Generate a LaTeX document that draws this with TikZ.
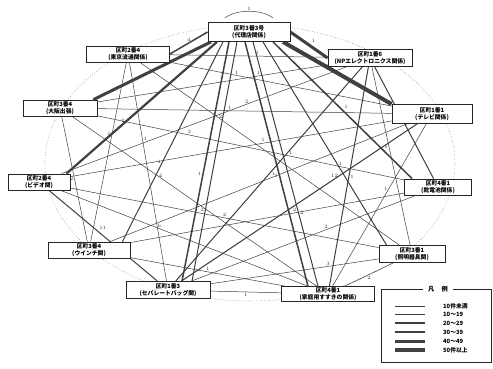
\documentclass[tikz,border=0pt]{standalone}
\usepackage{fontspec}
\newfontfamily\jp{Noto Sans CJK JP}
\usetikzlibrary{backgrounds}
\begin{document}
\begin{tikzpicture}[x=1pt,y=-1pt,
  box/.style={draw=black!85,fill=white,line width=0.8pt,inner sep=0.5pt,align=center,
    font=\jp\bfseries\fontsize{5.8}{6.6}\selectfont},
  lbl/.style={font=\fontsize{5}{5}\selectfont,inner sep=1pt,text=black!80},
  ln/.style={draw=black!75,line cap=butt},
  e1/.style={ln,line width=0.5pt},
  e2/.style={ln,line width=1pt},
  e3/.style={ln,line width=1.5pt},
  e4/.style={ln,line width=2.2pt},
  e5/.style={ln,line width=3pt},
  e6/.style={ln,line width=4pt},
  lgtext/.style={font=\jp\bfseries\fontsize{5.8}{6}\selectfont,anchor=west,inner sep=0pt}]
\useasboundingbox (0,0) rectangle (493,368);

% nodes
\node[box,minimum width=82pt,minimum height=19pt] (T)  at (249,32)  {区町3番3号\\(代理店関係)};
\node[box,minimum width=83pt,minimum height=16pt] (UL) at (128,54)  {区町2番4\\(東京流通関係)};
\node[box,minimum width=84pt,minimum height=17pt] (UR) at (370,58)  {区町1番6\\(NPエレクトロニクス関係)};
\node[box,minimum width=74pt,minimum height=16pt] (L)  at (60,108)  {区町3番4\\(大阪出張)};
\node[box,minimum width=80pt,minimum height=19pt] (R)  at (432,114) {区町1番1\\(テレビ関係)};
\node[box,minimum width=62pt,minimum height=16pt] (LM) at (39,182)  {区町2番4\\(ビデオ関)};
\node[box,minimum width=67pt,minimum height=16pt] (RM) at (438,187) {区町4番1\\(乾電池関係)};
\node[box,minimum width=82pt,minimum height=16pt] (LL) at (89,250)  {区町3番4\\(ウインチ関)};
\node[box,minimum width=66pt,minimum height=17pt] (LR) at (412,254) {区町3番1\\(照明器具関)};
\node[box,minimum width=84pt,minimum height=17pt] (BL) at (168,290) {区町1番3\\(セパレートバッグ関)};
\node[box,minimum width=93pt,minimum height=15pt] (BR) at (328,294) {区町4番1\\(家庭用すすきの関係)};

\coordinate (la) at (225,18);
\coordinate (lb) at (273,18);

\begin{scope}[on background layer]
\fill[white] (0,0) rectangle (493,368);
\draw[black!45,dotted,line width=0.6pt] (250,163) ellipse [x radius=205, y radius=138];

% self loop on top node
\draw[e1] (la) .. controls (236,9) and (262,9) .. node[lbl,above]{1} (lb);

% fan from the top node
\draw[e3] (T.west) -- node[lbl,pos=0.5,above]{4} (UL.east);
\draw[e5] ([xshift=-38pt]T.south) -- node[lbl,pos=0.45,below left]{1} ([xshift=-4pt]L.north east);
\draw[e4] ([xshift=-32pt]T.south) -- node[lbl,pos=0.6,left]{2} ([xshift=-4pt]LM.north east);
\draw[e2] ([xshift=-26pt]T.south) -- node[lbl,pos=0.6,left]{1} ([xshift=-8pt]LL.north east);
\draw[e3] ([xshift=-20pt]T.south) -- node[lbl,pos=0.55,left]{1} ([xshift=14pt]BL.north);
\draw[e2] ([xshift=-12pt]T.south) -- node[lbl,pos=0.7,left]{2} ([xshift=24pt]BL.north);
\draw[e3] ([xshift=-4pt]T.south) -- node[lbl,pos=0.55,left]{1} ([xshift=-20pt]BR.north);
\draw[e2] ([xshift=4pt]T.south) -- node[lbl,pos=0.7,right]{2} ([xshift=-10pt]BR.north);
\draw[e2] ([xshift=14pt]T.south) -- node[lbl,pos=0.6,right]{1} ([xshift=8pt]LR.north west);
\draw[e3] ([xshift=24pt]T.south) -- node[lbl,pos=0.5,above right]{1} ([xshift=8pt]RM.north west);
\draw[e6] ([xshift=34pt]T.south) -- node[lbl,pos=0.45,above right]{11} (R.north west);
\draw[e5] (T.east) -- node[lbl,pos=0.5,above right]{1} (UR.west);

% other connectors
\draw[e1] (UL) -- node[lbl,pos=0.3,above]{1} (R);
\draw[e1] (UL) -- node[lbl,pos=0.55,above]{3} (UR);
\draw[e1] (UL) -- node[lbl,pos=0.3,right]{2} (LR);
\draw[e1] (UL) -- node[lbl,pos=0.35,right]{1} (BL);
\draw[e1] (UL) -- node[lbl,pos=0.4,left]{1} (LL);
\draw[e1] (UR) -- node[lbl,pos=0.3,above]{1} (L);
\draw[e1] (UR) -- node[lbl,pos=0.35,above]{2} (LM);
\draw[e2] (UR) -- node[lbl,pos=0.4,right]{1} (BL);
\draw[e2] (UR) -- node[lbl,pos=0.5,right]{1} (BR);
\draw[e1] (UR) -- node[lbl,pos=0.45,left]{5} (LR);
\draw[e2] (UR) -- node[lbl,pos=0.5,left]{1} (RM);
\draw[e1] (L) -- node[lbl,pos=0.45,above]{1} (R);
\draw[e1] (L) -- node[lbl,pos=0.3,above]{3} (RM);
\draw[e1] (L) -- node[lbl,pos=0.35,right]{4} (BR);
\draw[e1] (L) -- node[lbl,pos=0.5,left]{2} (LL);
\draw[e1] (LM) -- node[lbl,pos=0.6,above]{1} (R);
\draw[e1] (LM) -- node[lbl,pos=0.5,above]{2} (LR);
\draw[e1] (LM) -- node[lbl,pos=0.4,above]{6} (BR);
\draw[e2] (LM) -- node[lbl,pos=0.45,above right]{11} (BL);
\draw[e1] (LL) -- node[lbl,pos=0.55,above]{1} (R);
\draw[e1] (LL) -- node[lbl,pos=0.6,above]{2} (RM);
\draw[e1] (LL) -- node[lbl,pos=0.5,above]{1} (BR);
\draw[e1] (BL) -- node[lbl,pos=0.6,above]{2} (RM);
\draw[e1] (BL) -- node[lbl,pos=0.7,above]{3} (LR);
\draw[e1] (BL) -- node[lbl,pos=0.5,below]{1} (BR);
\draw[e1] (BR) -- node[lbl,pos=0.5,below]{2} (LR);
\draw[e1] (R) -- node[lbl,pos=0.4,left]{1} (BR);
\draw[e2] (R) -- node[lbl,pos=0.35,above]{12} (BL);
\end{scope}

% legend
\draw[black!85,line width=0.8pt] (381,289) rectangle (491,362);
\node[fill=white,font=\jp\bfseries\fontsize{6.2}{6.2}\selectfont,inner xsep=5pt,inner ysep=1pt] (lgt) at (438,289) {凡\hspace{1.2em}例};
\draw[e1] (395,306) -- (425,306); \node[lgtext] (g1) at (443,306) {10件未満};
\draw[e2] (395,314) -- (425,314); \node[lgtext] (g2) at (443,314) {10〜19};
\draw[e3] (395,323) -- (425,323); \node[lgtext] (g3) at (443,323) {20〜29};
\draw[e4] (395,332) -- (425,332); \node[lgtext] (g4) at (443,332) {30〜39};
\draw[e5] (395,341) -- (425,341); \node[lgtext] (g5) at (443,341) {40〜49};
\draw[e6] (395,350) -- (425,350); \node[lgtext] (g6) at (443,350) {50件以上};
\end{tikzpicture}
\end{document}
